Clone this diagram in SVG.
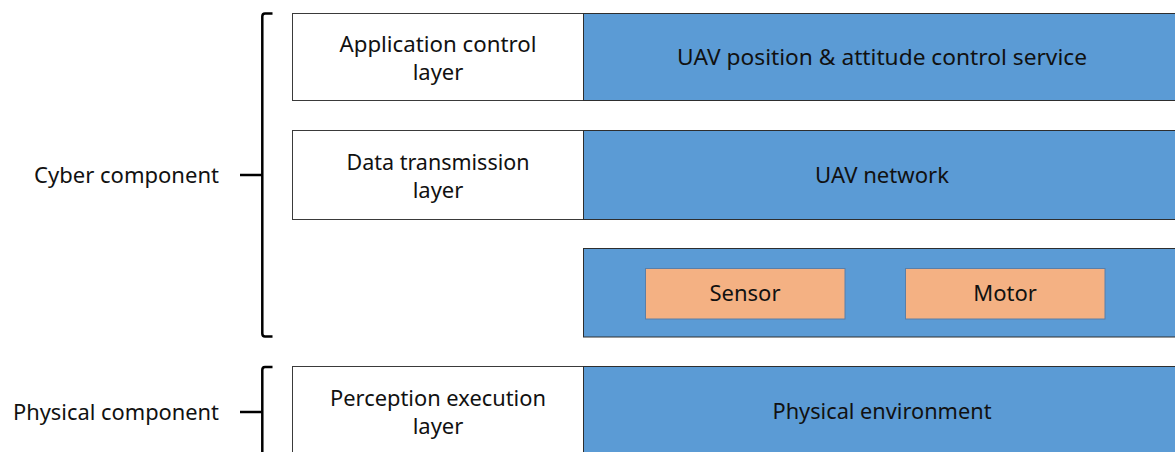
<svg xmlns="http://www.w3.org/2000/svg" width="1175" height="452" viewBox="0 0 1175 452">
  <style>
    text { font-family: "Noto Sans", "Open Sans", "DejaVu Sans", sans-serif; font-size: 22px; fill: #111111; text-anchor: middle; }
    .label { fill: #ffffff; stroke: #3a3a3a; stroke-width: 1; }
    .band { fill: #5b9bd5; stroke: #2e2e2e; stroke-width: 1; }
    .part { fill: #f4b183; stroke: #5a7fa8; stroke-width: 1; }
    .brace { fill: none; stroke: #000000; stroke-width: 2.5; stroke-linejoin: round; }
    .side { text-anchor: end; }
  </style>

  <!-- group braces on the left -->
  <g id="connectors">
    <path class="brace" d="M272.5 13.5 H265 Q262.3 13.5 262.3 16.5 V333.5 Q262.3 336.5 265 336.5 H272.5"/>
    <path class="brace" d="M240 175 H262.3"/>
    <path class="brace" d="M272.5 367 H265 Q262.3 367 262.3 370 V460"/>
    <path class="brace" d="M240 412 H262.3"/>
  </g>

  <g id="cyber-component">
    <text class="side" x="219" y="183" textLength="185" lengthAdjust="spacingAndGlyphs">Cyber component</text>
  </g>
  <g id="physical-component">
    <text class="side" x="219" y="420" textLength="206" lengthAdjust="spacingAndGlyphs">Physical component</text>
  </g>

  <!-- application control layer -->
  <g id="application-control-layer">
    <rect class="label" x="292.5" y="13.5" width="291" height="87"/>
    <text x="438" y="52" textLength="197" lengthAdjust="spacingAndGlyphs">Application control</text>
    <text x="438" y="80">layer</text>
  </g>
  <g id="uav-control-service">
    <rect class="band" x="583.5" y="13.5" width="600" height="87"/>
    <text x="882" y="65" textLength="410" lengthAdjust="spacingAndGlyphs">UAV position &amp; attitude control service</text>
  </g>

  <!-- data transmission layer -->
  <g id="data-transmission-layer">
    <rect class="label" x="292.5" y="130.5" width="291" height="89"/>
    <text x="438" y="169.5" textLength="183" lengthAdjust="spacingAndGlyphs">Data transmission</text>
    <text x="438" y="197.5">layer</text>
  </g>
  <g id="uav-network">
    <rect class="band" x="583.5" y="130.5" width="600" height="89"/>
    <text x="882" y="183" textLength="134" lengthAdjust="spacingAndGlyphs">UAV network</text>
  </g>

  <!-- device band -->
  <g id="device-band">
    <rect class="band" x="583.5" y="248.5" width="600" height="88.5"/>
  </g>
  <g id="sensor">
    <rect class="part" x="645.5" y="268.5" width="199.5" height="50.5"/>
    <text x="745" y="301">Sensor</text>
  </g>
  <g id="motor">
    <rect class="part" x="905.5" y="268.5" width="199.5" height="50.5"/>
    <text x="1005" y="301">Motor</text>
  </g>

  <!-- perception execution layer -->
  <g id="perception-execution-layer">
    <rect class="label" x="292.5" y="366.5" width="291" height="100"/>
    <text x="438" y="405.5" textLength="216" lengthAdjust="spacingAndGlyphs">Perception execution</text>
    <text x="438" y="433.5">layer</text>
  </g>
  <g id="physical-environment">
    <rect class="band" x="583.5" y="366.5" width="600" height="100"/>
    <text x="882" y="419" textLength="219" lengthAdjust="spacingAndGlyphs">Physical environment</text>
  </g>
</svg>
